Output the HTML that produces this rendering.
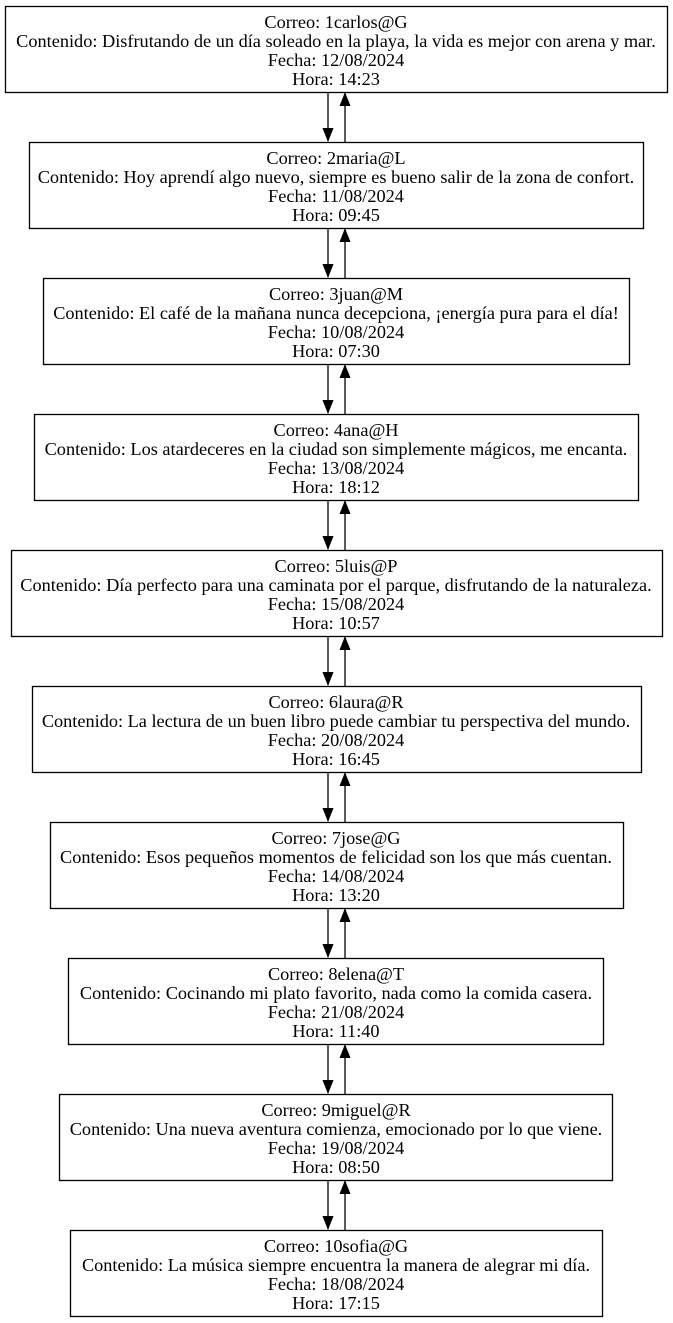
<!DOCTYPE html>
<html><head><meta charset="utf-8"><style>
body{margin:0;background:#fff}
svg{display:block}
text{font-family:"Liberation Serif","Times New Roman",serif;font-size:18.3px;fill:#000;text-anchor:middle}
</style></head><body>
<svg width="673" height="1323" viewBox="0 0 673 1323" xmlns="http://www.w3.org/2000/svg">
<defs>
<marker id="a" markerWidth="14" markerHeight="12" refX="13" refY="6" orient="auto" markerUnits="userSpaceOnUse">
<path d="M0,0.5 L14,6 L0,11.5 Z" fill="#000"/></marker>
</defs>
<g fill="none" stroke="#000" stroke-width="1.3">
<rect x="5.5" y="6.5" width="662" height="86"/>
<rect x="29.5" y="142.5" width="614" height="86"/>
<rect x="43.5" y="278.5" width="586" height="86"/>
<rect x="34.5" y="414.5" width="604" height="86"/>
<rect x="11.5" y="550.5" width="651" height="86"/>
<rect x="32.5" y="686.5" width="609" height="86"/>
<rect x="50.5" y="822.5" width="573" height="86"/>
<rect x="68.5" y="958.5" width="535" height="86"/>
<rect x="59.5" y="1094.5" width="553" height="86"/>
<rect x="70.5" y="1230.5" width="532" height="86"/>
</g>
<g stroke="#000" stroke-width="1.3" fill="none">
<path d="M328,93 L328,141" marker-end="url(#a)"/><path d="M345,142 L345,93" marker-end="url(#a)"/>
<path d="M328,229 L328,277" marker-end="url(#a)"/><path d="M345,278 L345,229" marker-end="url(#a)"/>
<path d="M328,365 L328,413" marker-end="url(#a)"/><path d="M345,414 L345,365" marker-end="url(#a)"/>
<path d="M328,501 L328,549" marker-end="url(#a)"/><path d="M345,550 L345,501" marker-end="url(#a)"/>
<path d="M328,637 L328,685" marker-end="url(#a)"/><path d="M345,686 L345,637" marker-end="url(#a)"/>
<path d="M328,773 L328,821" marker-end="url(#a)"/><path d="M345,822 L345,773" marker-end="url(#a)"/>
<path d="M328,909 L328,957" marker-end="url(#a)"/><path d="M345,958 L345,909" marker-end="url(#a)"/>
<path d="M328,1045 L328,1093" marker-end="url(#a)"/><path d="M345,1094 L345,1045" marker-end="url(#a)"/>
<path d="M328,1181 L328,1229" marker-end="url(#a)"/><path d="M345,1230 L345,1181" marker-end="url(#a)"/>
</g>
<g>
<text x="336" y="28">Correo: 1carlos@G</text><text x="336" y="47">Contenido: Disfrutando de un día soleado en la playa, la vida es mejor con arena y mar.</text><text x="336" y="66">Fecha: 12/08/2024</text><text x="336" y="85">Hora: 14:23</text>
<text x="336" y="164">Correo: 2maria@L</text><text x="336" y="183">Contenido: Hoy aprendí algo nuevo, siempre es bueno salir de la zona de confort.</text><text x="336" y="202">Fecha: 11/08/2024</text><text x="336" y="221">Hora: 09:45</text>
<text x="336" y="300">Correo: 3juan@M</text><text x="336" y="319">Contenido: El café de la mañana nunca decepciona, ¡energía pura para el día!</text><text x="336" y="338">Fecha: 10/08/2024</text><text x="336" y="357">Hora: 07:30</text>
<text x="336" y="436">Correo: 4ana@H</text><text x="336" y="455">Contenido: Los atardeceres en la ciudad son simplemente mágicos, me encanta.</text><text x="336" y="474">Fecha: 13/08/2024</text><text x="336" y="493">Hora: 18:12</text>
<text x="336" y="572">Correo: 5luis@P</text><text x="336" y="591">Contenido: Día perfecto para una caminata por el parque, disfrutando de la naturaleza.</text><text x="336" y="610">Fecha: 15/08/2024</text><text x="336" y="629">Hora: 10:57</text>
<text x="336" y="708">Correo: 6laura@R</text><text x="336" y="727">Contenido: La lectura de un buen libro puede cambiar tu perspectiva del mundo.</text><text x="336" y="746">Fecha: 20/08/2024</text><text x="336" y="765">Hora: 16:45</text>
<text x="336" y="844">Correo: 7jose@G</text><text x="336" y="863">Contenido: Esos pequeños momentos de felicidad son los que más cuentan.</text><text x="336" y="882">Fecha: 14/08/2024</text><text x="336" y="901">Hora: 13:20</text>
<text x="336" y="980">Correo: 8elena@T</text><text x="336" y="999">Contenido: Cocinando mi plato favorito, nada como la comida casera.</text><text x="336" y="1018">Fecha: 21/08/2024</text><text x="336" y="1037">Hora: 11:40</text>
<text x="336" y="1116">Correo: 9miguel@R</text><text x="336" y="1135">Contenido: Una nueva aventura comienza, emocionado por lo que viene.</text><text x="336" y="1154">Fecha: 19/08/2024</text><text x="336" y="1173">Hora: 08:50</text>
<text x="336" y="1252">Correo: 10sofia@G</text><text x="336" y="1271">Contenido: La música siempre encuentra la manera de alegrar mi día.</text><text x="336" y="1290">Fecha: 18/08/2024</text><text x="336" y="1309">Hora: 17:15</text>
</g>
</svg>
</body></html>
